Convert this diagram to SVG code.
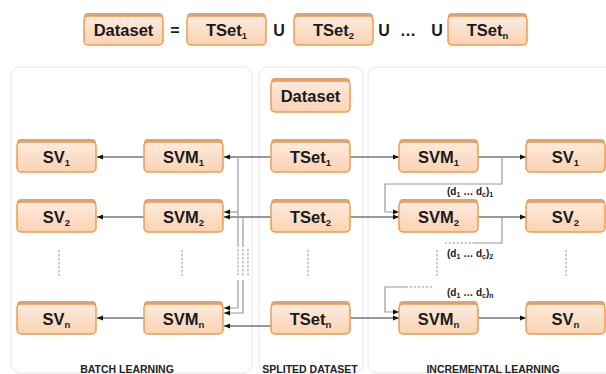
<svg xmlns="http://www.w3.org/2000/svg" width="606" height="374" viewBox="0 0 606 374">
  <style>
    text { font-family: "Liberation Sans", Arial, sans-serif; font-weight: bold; fill: #1a1a1a; }
    .lbl { font-size: 16.5px; text-anchor: middle; }
    .sub { font-size: 9.5px; }
    .op { font-size: 16px; text-anchor: middle; }
    .cap { font-size: 10.5px; text-anchor: middle; fill: #222; }
    .d { font-size: 10px; }
    .ds { font-size: 7px; }
    .panel { fill: #fff; stroke: #e6e6e6; stroke-width: 1; }
    .band { fill: #d9a47e; }
    .box { fill: url(#peach); stroke: #f39a4c; stroke-width: 1.5; }
    .blk { fill: none; stroke: #333; stroke-width: 1; }
    .gry { fill: none; stroke: #999; stroke-width: 1.2; }
    .dash { fill: none; stroke: #999; stroke-width: 1; stroke-dasharray: 2.5 1.5; }
  </style>
  <defs>
    <linearGradient id="peach" x1="0" y1="0" x2="0" y2="1">
      <stop offset="0" stop-color="#fdebde"/>
      <stop offset="1" stop-color="#fad2b3"/>
    </linearGradient>
    <marker id="ah" viewBox="0 0 6 6" refX="6" refY="3" markerWidth="6" markerHeight="6" markerUnits="userSpaceOnUse" orient="auto">
      <path d="M0,0.5 L6,3 L0,5.5 Z" fill="#111"/>
    </marker>
  </defs>

  <!-- panels -->
  <rect class="panel" x="11" y="67" width="241" height="306" rx="9"/>
  <rect class="panel" x="259" y="67" width="104" height="306" rx="9"/>
  <rect class="panel" x="368" y="67" width="250" height="306" rx="9"/>

  <!-- top equation -->
  <g id="eq-dataset"><rect class="band" x="84" y="13" width="79" height="12" rx="4"/><rect class="box" x="84" y="16" width="79" height="29" rx="4"/><text class="lbl" x="123.5" y="36">Dataset</text></g>
  <text class="op" x="175" y="36">=</text>
  <g id="eq-tset1"><rect class="band" x="187" y="13" width="79" height="12" rx="4"/><rect class="box" x="187" y="16" width="79" height="29" rx="4"/><text class="lbl" x="226.5" y="36">TSet<tspan class="sub" dy="2.5">1</tspan></text></g>
  <text class="op" x="279" y="36">U</text>
  <g id="eq-tset2"><rect class="band" x="294" y="13" width="79" height="12" rx="4"/><rect class="box" x="294" y="16" width="79" height="29" rx="4"/><text class="lbl" x="333.5" y="36">TSet<tspan class="sub" dy="2.5">2</tspan></text></g>
  <text class="op" x="384" y="36">U</text>
  <text class="op" x="408" y="36">…</text>
  <text class="op" x="437" y="36">U</text>
  <g id="eq-tsetn"><rect class="band" x="448" y="13" width="79" height="12" rx="4"/><rect class="box" x="448" y="16" width="79" height="29" rx="4"/><text class="lbl" x="487.5" y="36">TSet<tspan class="sub" dy="2.5">n</tspan></text></g>

  <!-- connectors -->
  <g id="connectors">
    <!-- batch learning -->
    <line class="blk" x1="271" y1="157" x2="224" y2="157" marker-end="url(#ah)"/>
    <line class="blk" x1="144" y1="157" x2="97" y2="157" marker-end="url(#ah)"/>
    <line class="blk" x1="271" y1="217" x2="224" y2="217" marker-end="url(#ah)"/>
    <line class="blk" x1="144" y1="217" x2="97" y2="217" marker-end="url(#ah)"/>
    <line class="blk" x1="271" y1="326" x2="224" y2="326" marker-end="url(#ah)"/>
    <line class="blk" x1="144" y1="318" x2="97" y2="318" marker-end="url(#ah)"/>
    <path class="gry" d="M238,157 V247"/>
    <path class="gry" d="M238,212 H224" marker-end="url(#ah)"/>
    <path class="gry" d="M238,280 V308 H224" marker-end="url(#ah)"/>
    <path class="gry" d="M243,217 V247"/>
    <path class="gry" d="M243,280 V313 H224" marker-end="url(#ah)"/>
    <path class="dash" d="M238,249 V277 M243,249 V277 M248,249 V277"/>
    <!-- incremental learning -->
    <line class="blk" x1="350" y1="157" x2="399" y2="157" marker-end="url(#ah)"/>
    <line class="blk" x1="478" y1="157" x2="526" y2="157" marker-end="url(#ah)"/>
    <path class="gry" d="M502,157 V184 H385 V212 H399" marker-end="url(#ah)"/>
    <line class="blk" x1="350" y1="217" x2="399" y2="217" marker-end="url(#ah)"/>
    <line class="blk" x1="478" y1="217" x2="526" y2="217" marker-end="url(#ah)"/>
    <path class="gry" d="M502,217 V243 H475"/>
    <path class="dash" d="M475,243 H445"/>
    <path class="dash" d="M432,287 H408"/>
    <path class="gry" d="M408,287 H385 V312 H399" marker-end="url(#ah)"/>
    <line class="blk" x1="350" y1="318" x2="399" y2="318" marker-end="url(#ah)"/>
    <line class="blk" x1="478" y1="318" x2="526" y2="318" marker-end="url(#ah)"/>
    <!-- elided rows -->
    <path class="dash" d="M59,250 V276 M182,250 V276 M308,250 V276 M437,250 V276 M566,250 V276"/>
  </g>

  <!-- feedback labels -->
  <text class="d" x="447" y="195">(d<tspan class="ds" dy="1.5">1</tspan><tspan dy="-1.5"> … d</tspan><tspan class="ds" dy="1.5">c</tspan><tspan dy="-1.5">)</tspan><tspan class="ds" dy="1.5">1</tspan></text>
  <text class="d" x="447" y="257">(d<tspan class="ds" dy="1.5">1</tspan><tspan dy="-1.5"> … d</tspan><tspan class="ds" dy="1.5">c</tspan><tspan dy="-1.5">)</tspan><tspan class="ds" dy="1.5">2</tspan></text>
  <text class="d" x="447" y="296">(d<tspan class="ds" dy="1.5">1</tspan><tspan dy="-1.5"> … d</tspan><tspan class="ds" dy="1.5">c</tspan><tspan dy="-1.5">)</tspan><tspan class="ds" dy="1.5">n</tspan></text>

  <!-- split dataset column -->
  <g id="dataset"><rect class="band" x="271" y="78" width="79" height="12" rx="4"/><rect class="box" x="271" y="81" width="79" height="31" rx="4"/><text class="lbl" x="310.5" y="102">Dataset</text></g>
  <g id="tset1"><rect class="band" x="271" y="139" width="79" height="12" rx="4"/><rect class="box" x="271" y="142" width="79" height="30" rx="4"/><text class="lbl" x="310.5" y="163">TSet<tspan class="sub" dy="2.5">1</tspan></text></g>
  <g id="tset2"><rect class="band" x="271" y="199" width="79" height="12" rx="4"/><rect class="box" x="271" y="202" width="79" height="30" rx="4"/><text class="lbl" x="310.5" y="223">TSet<tspan class="sub" dy="2.5">2</tspan></text></g>
  <g id="tsetn"><rect class="band" x="271" y="301" width="79" height="12" rx="4"/><rect class="box" x="271" y="304" width="79" height="30" rx="4"/><text class="lbl" x="310.5" y="325">TSet<tspan class="sub" dy="2.5">n</tspan></text></g>

  <!-- batch learning column -->
  <g id="b-svm1"><rect class="band" x="144" y="139" width="79" height="12" rx="4"/><rect class="box" x="144" y="142" width="79" height="30" rx="4"/><text class="lbl" x="183.5" y="163">SVM<tspan class="sub" dy="2.5">1</tspan></text></g>
  <g id="b-svm2"><rect class="band" x="144" y="199" width="79" height="12" rx="4"/><rect class="box" x="144" y="202" width="79" height="30" rx="4"/><text class="lbl" x="183.5" y="223">SVM<tspan class="sub" dy="2.5">2</tspan></text></g>
  <g id="b-svmn"><rect class="band" x="144" y="301" width="79" height="12" rx="4"/><rect class="box" x="144" y="304" width="79" height="30" rx="4"/><text class="lbl" x="183.5" y="325">SVM<tspan class="sub" dy="2.5">n</tspan></text></g>
  <g id="b-sv1"><rect class="band" x="17" y="139" width="79" height="12" rx="4"/><rect class="box" x="17" y="142" width="79" height="30" rx="4"/><text class="lbl" x="56.5" y="163">SV<tspan class="sub" dy="2.5">1</tspan></text></g>
  <g id="b-sv2"><rect class="band" x="17" y="199" width="79" height="12" rx="4"/><rect class="box" x="17" y="202" width="79" height="30" rx="4"/><text class="lbl" x="56.5" y="223">SV<tspan class="sub" dy="2.5">2</tspan></text></g>
  <g id="b-svn"><rect class="band" x="17" y="301" width="79" height="12" rx="4"/><rect class="box" x="17" y="304" width="79" height="30" rx="4"/><text class="lbl" x="56.5" y="325">SV<tspan class="sub" dy="2.5">n</tspan></text></g>

  <!-- incremental learning column -->
  <g id="i-svm1"><rect class="band" x="399" y="139" width="79" height="12" rx="4"/><rect class="box" x="399" y="142" width="79" height="30" rx="4"/><text class="lbl" x="438.5" y="163">SVM<tspan class="sub" dy="2.5">1</tspan></text></g>
  <g id="i-svm2"><rect class="band" x="399" y="199" width="79" height="12" rx="4"/><rect class="box" x="399" y="202" width="79" height="30" rx="4"/><text class="lbl" x="438.5" y="223">SVM<tspan class="sub" dy="2.5">2</tspan></text></g>
  <g id="i-svmn"><rect class="band" x="399" y="301" width="79" height="12" rx="4"/><rect class="box" x="399" y="304" width="79" height="30" rx="4"/><text class="lbl" x="438.5" y="325">SVM<tspan class="sub" dy="2.5">n</tspan></text></g>
  <g id="i-sv1"><rect class="band" x="526" y="139" width="79" height="12" rx="4"/><rect class="box" x="526" y="142" width="79" height="30" rx="4"/><text class="lbl" x="565.5" y="163">SV<tspan class="sub" dy="2.5">1</tspan></text></g>
  <g id="i-sv2"><rect class="band" x="526" y="199" width="79" height="12" rx="4"/><rect class="box" x="526" y="202" width="79" height="30" rx="4"/><text class="lbl" x="565.5" y="223">SV<tspan class="sub" dy="2.5">2</tspan></text></g>
  <g id="i-svn"><rect class="band" x="526" y="301" width="79" height="12" rx="4"/><rect class="box" x="526" y="304" width="79" height="30" rx="4"/><text class="lbl" x="565.5" y="325">SV<tspan class="sub" dy="2.5">n</tspan></text></g>

  <!-- panel captions -->
  <text class="cap" x="127" y="373">BATCH LEARNING</text>
  <text class="cap" x="310" y="373">SPLITED DATASET</text>
  <text class="cap" x="493" y="373">INCREMENTAL LEARNING</text>
</svg>
